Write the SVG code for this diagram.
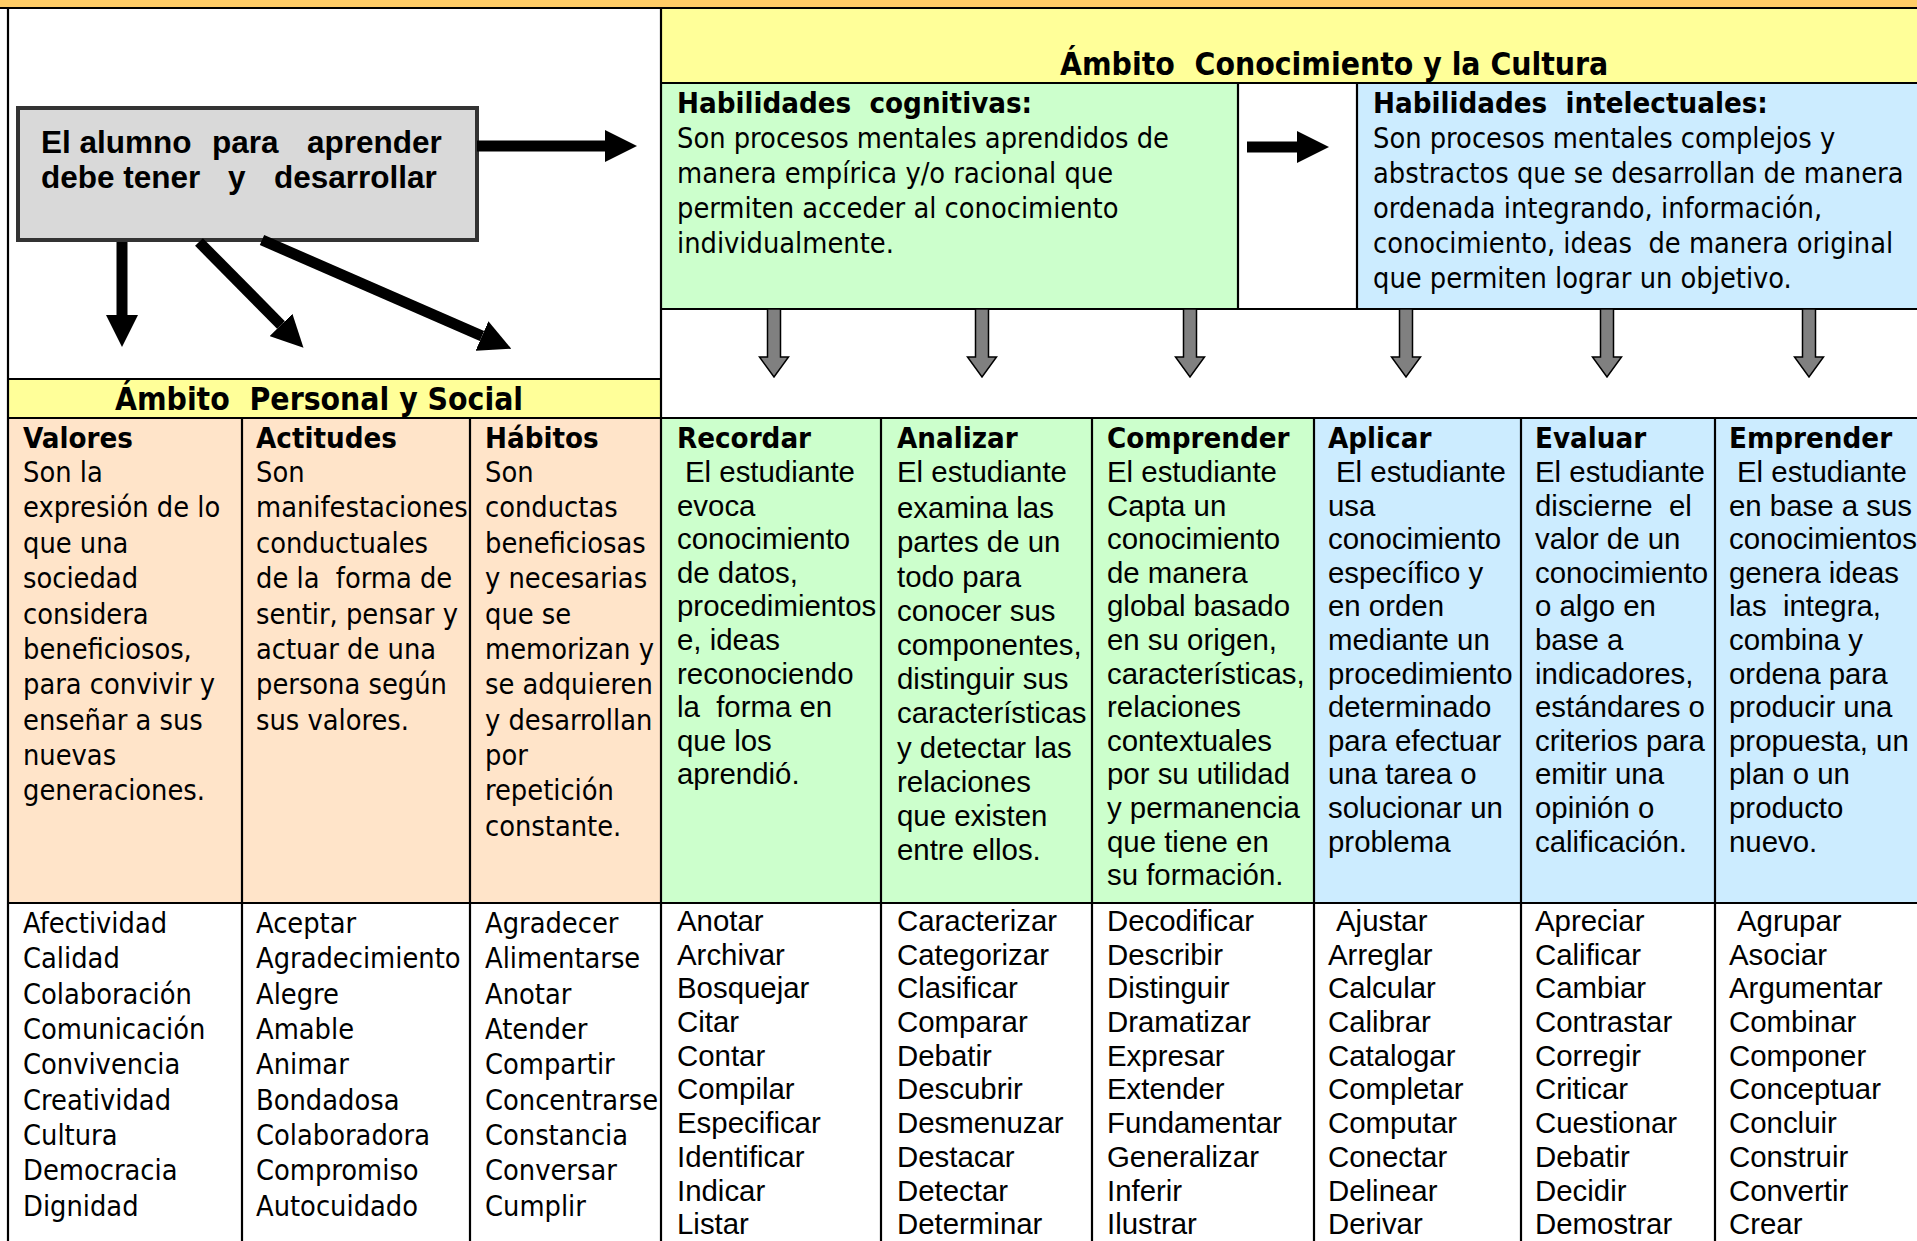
<svg xmlns="http://www.w3.org/2000/svg" width="1917" height="1241" viewBox="0 0 1917 1241">
<style>
.t{font-family:"DejaVu Sans Condensed","DejaVu Sans",sans-serif;font-stretch:condensed;font-size:28.7px;fill:#000}
.tb{font-family:"DejaVu Sans Condensed","DejaVu Sans",sans-serif;font-stretch:condensed;font-size:29.2px;font-weight:bold;fill:#000}
.th{font-family:"DejaVu Sans Condensed","DejaVu Sans",sans-serif;font-stretch:condensed;font-size:31.6px;font-weight:bold;fill:#000}
.a{font-family:"Liberation Sans",Arial,sans-serif;font-size:29.4px;fill:#000}
.ab{font-family:"Liberation Sans",Arial,sans-serif;font-size:31.5px;font-weight:bold;fill:#000}
.ln{stroke:#000;stroke-width:2.2;fill:none}
.blk{stroke:#000;stroke-width:11;fill:none;marker-end:url(#ah)}
.garrow{fill:#808080;stroke:#000;stroke-width:1.5}
</style>
<defs>
<marker id="ah" markerUnits="userSpaceOnUse" viewBox="0 0 32 32" markerWidth="32" markerHeight="32" refX="0" refY="16" orient="auto"><path d="M0,0 L32,16 L0,32 z" fill="#000"/></marker>
<path id="ga" class="garrow" d="M-6.5,309 L6.5,309 L6.5,357 L14.5,357 L0,377 L-14.5,357 L-6.5,357 Z"/>
</defs>
<rect x="0" y="0" width="1917" height="1241" fill="#fff"/>
<rect x="0" y="0" width="1917" height="8" fill="#ffcc66"/>

<g id="ambito-conocimiento">
<rect x="661" y="8" width="1256" height="75" fill="#ffff99"/>
<text class="th" x="1060" y="75" xml:space="preserve">Ámbito  Conocimiento y la Cultura</text>
</g>

<g id="hab-cognitivas">
<rect x="661" y="83" width="577" height="226" fill="#ccffcc"/>
<text class="tb" x="677" y="113" xml:space="preserve">Habilidades  cognitivas:</text>
<text class="t" x="677" y="148">Son procesos mentales aprendidos de</text>
<text class="t" x="677" y="183">manera empírica y/o racional que</text>
<text class="t" x="677" y="218">permiten acceder al conocimiento</text>
<text class="t" x="677" y="253">individualmente.</text>
</g>

<g id="hab-intelectuales">
<rect x="1357" y="83" width="560" height="226" fill="#ccecff"/>
<text class="tb" x="1373" y="113" xml:space="preserve">Habilidades  intelectuales:</text>
<text class="t" x="1373" y="148">Son procesos mentales complejos y</text>
<text class="t" x="1373" y="183">abstractos que se desarrollan de manera</text>
<text class="t" x="1373" y="218">ordenada integrando, información,</text>
<text class="t" x="1373" y="253" xml:space="preserve">conocimiento, ideas  de manera original</text>
<text class="t" x="1373" y="288">que permiten lograr un objetivo.</text>
</g>

<g id="alumno">
<rect x="18" y="108" width="459" height="132" fill="#d9d9d9" stroke="#333" stroke-width="4"/>
<text class="ab" y="153"><tspan x="41">El alumno</tspan><tspan x="212">para</tspan><tspan x="307">aprender</tspan></text>
<text class="ab" y="188"><tspan x="41">debe tener</tspan><tspan x="228">y</tspan><tspan x="274">desarrollar</tspan></text>
</g>

<g id="ambito-personal">
<rect x="8" y="379" width="653" height="39" fill="#ffff99"/>
<text class="th" x="319" y="410" text-anchor="middle" xml:space="preserve">Ámbito  Personal y Social</text>
</g>

<g id="fills">
<rect x="8" y="418" width="653" height="485" fill="#ffe4c9"/>
<rect x="661" y="418" width="653" height="485" fill="#ccffcc"/>
<rect x="1314" y="418" width="603" height="485" fill="#ccecff"/>
</g>

<g id="valores">
<text class="tb" x="23" y="448">Valores</text>
<text class="t" x="23" y="482">Son la</text>
<text class="t" x="23" y="517">expresión de lo</text>
<text class="t" x="23" y="553">que una</text>
<text class="t" x="23" y="588">sociedad</text>
<text class="t" x="23" y="624">considera</text>
<text class="t" x="23" y="659">beneficiosos,</text>
<text class="t" x="23" y="694">para convivir y</text>
<text class="t" x="23" y="730">enseñar a sus</text>
<text class="t" x="23" y="765">nuevas</text>
<text class="t" x="23" y="800">generaciones.</text>
<text class="t" x="23" y="933">Afectividad</text>
<text class="t" x="23" y="968">Calidad</text>
<text class="t" x="23" y="1004">Colaboración</text>
<text class="t" x="23" y="1039">Comunicación</text>
<text class="t" x="23" y="1074">Convivencia</text>
<text class="t" x="23" y="1110">Creatividad</text>
<text class="t" x="23" y="1145">Cultura</text>
<text class="t" x="23" y="1180">Democracia</text>
<text class="t" x="23" y="1216">Dignidad</text>
</g>

<g id="actitudes">
<text class="tb" x="256" y="448">Actitudes</text>
<text class="t" x="256" y="482">Son</text>
<text class="t" x="256" y="517">manifestaciones</text>
<text class="t" x="256" y="553">conductuales</text>
<text class="t" x="256" y="588" xml:space="preserve">de la  forma de</text>
<text class="t" x="256" y="624">sentir, pensar y</text>
<text class="t" x="256" y="659">actuar de una</text>
<text class="t" x="256" y="694">persona según</text>
<text class="t" x="256" y="730">sus valores.</text>
<text class="t" x="256" y="933">Aceptar</text>
<text class="t" x="256" y="968">Agradecimiento</text>
<text class="t" x="256" y="1004">Alegre</text>
<text class="t" x="256" y="1039">Amable</text>
<text class="t" x="256" y="1074">Animar</text>
<text class="t" x="256" y="1110">Bondadosa</text>
<text class="t" x="256" y="1145">Colaboradora</text>
<text class="t" x="256" y="1180">Compromiso</text>
<text class="t" x="256" y="1216">Autocuidado</text>
</g>

<g id="habitos">
<text class="tb" x="485" y="448">Hábitos</text>
<text class="t" x="485" y="482">Son</text>
<text class="t" x="485" y="517">conductas</text>
<text class="t" x="485" y="553">beneficiosas</text>
<text class="t" x="485" y="588">y necesarias</text>
<text class="t" x="485" y="624">que se</text>
<text class="t" x="485" y="659">memorizan y</text>
<text class="t" x="485" y="694">se adquieren</text>
<text class="t" x="485" y="730">y desarrollan</text>
<text class="t" x="485" y="765">por</text>
<text class="t" x="485" y="800">repetición</text>
<text class="t" x="485" y="836">constante.</text>
<text class="t" x="485" y="933">Agradecer</text>
<text class="t" x="485" y="968">Alimentarse</text>
<text class="t" x="485" y="1004">Anotar</text>
<text class="t" x="485" y="1039">Atender</text>
<text class="t" x="485" y="1074">Compartir</text>
<text class="t" x="485" y="1110">Concentrarse</text>
<text class="t" x="485" y="1145">Constancia</text>
<text class="t" x="485" y="1180">Conversar</text>
<text class="t" x="485" y="1216">Cumplir</text>
</g>

<g id="recordar">
<text class="tb" x="677" y="448">Recordar</text>
<text class="a" x="685" y="482">El estudiante</text>
<text class="a" x="677" y="516">evoca</text>
<text class="a" x="677" y="549">conocimiento</text>
<text class="a" x="677" y="583">de datos,</text>
<text class="a" x="677" y="616">procedimientos</text>
<text class="a" x="677" y="650">e, ideas</text>
<text class="a" x="677" y="684">reconociendo</text>
<text class="a" x="677" y="717" xml:space="preserve">la  forma en</text>
<text class="a" x="677" y="751">que los</text>
<text class="a" x="677" y="784">aprendió.</text>
<text class="a" x="677" y="931">Anotar</text>
<text class="a" x="677" y="965">Archivar</text>
<text class="a" x="677" y="998">Bosquejar</text>
<text class="a" x="677" y="1032">Citar</text>
<text class="a" x="677" y="1066">Contar</text>
<text class="a" x="677" y="1099">Compilar</text>
<text class="a" x="677" y="1133">Especificar</text>
<text class="a" x="677" y="1167">Identificar</text>
<text class="a" x="677" y="1201">Indicar</text>
<text class="a" x="677" y="1234">Listar</text>
</g>

<g id="analizar">
<text class="tb" x="897" y="448">Analizar</text>
<text class="a" x="897" y="482">El estudiante</text>
<text class="a" x="897" y="518">examina las</text>
<text class="a" x="897" y="552">partes de un</text>
<text class="a" x="897" y="587">todo para</text>
<text class="a" x="897" y="621">conocer sus</text>
<text class="a" x="897" y="655">componentes,</text>
<text class="a" x="897" y="689">distinguir sus</text>
<text class="a" x="897" y="723">características</text>
<text class="a" x="897" y="758">y detectar las</text>
<text class="a" x="897" y="792">relaciones</text>
<text class="a" x="897" y="826">que existen</text>
<text class="a" x="897" y="860">entre ellos.</text>
<text class="a" x="897" y="931">Caracterizar</text>
<text class="a" x="897" y="965">Categorizar</text>
<text class="a" x="897" y="998">Clasificar</text>
<text class="a" x="897" y="1032">Comparar</text>
<text class="a" x="897" y="1066">Debatir</text>
<text class="a" x="897" y="1099">Descubrir</text>
<text class="a" x="897" y="1133">Desmenuzar</text>
<text class="a" x="897" y="1167">Destacar</text>
<text class="a" x="897" y="1201">Detectar</text>
<text class="a" x="897" y="1234">Determinar</text>
</g>

<g id="comprender">
<text class="tb" x="1107" y="448">Comprender</text>
<text class="a" x="1107" y="482">El estudiante</text>
<text class="a" x="1107" y="516">Capta un</text>
<text class="a" x="1107" y="549">conocimiento</text>
<text class="a" x="1107" y="583">de manera</text>
<text class="a" x="1107" y="616">global basado</text>
<text class="a" x="1107" y="650">en su origen,</text>
<text class="a" x="1107" y="684">características,</text>
<text class="a" x="1107" y="717">relaciones</text>
<text class="a" x="1107" y="751">contextuales</text>
<text class="a" x="1107" y="784">por su utilidad</text>
<text class="a" x="1107" y="818">y permanencia</text>
<text class="a" x="1107" y="852">que tiene en</text>
<text class="a" x="1107" y="885">su formación.</text>
<text class="a" x="1107" y="931">Decodificar</text>
<text class="a" x="1107" y="965">Describir</text>
<text class="a" x="1107" y="998">Distinguir</text>
<text class="a" x="1107" y="1032">Dramatizar</text>
<text class="a" x="1107" y="1066">Expresar</text>
<text class="a" x="1107" y="1099">Extender</text>
<text class="a" x="1107" y="1133">Fundamentar</text>
<text class="a" x="1107" y="1167">Generalizar</text>
<text class="a" x="1107" y="1201">Inferir</text>
<text class="a" x="1107" y="1234">Ilustrar</text>
</g>

<g id="aplicar">
<text class="tb" x="1328" y="448">Aplicar</text>
<text class="a" x="1336" y="482">El estudiante</text>
<text class="a" x="1328" y="516">usa</text>
<text class="a" x="1328" y="549">conocimiento</text>
<text class="a" x="1328" y="583">específico y</text>
<text class="a" x="1328" y="616">en orden</text>
<text class="a" x="1328" y="650">mediante un</text>
<text class="a" x="1328" y="684">procedimiento</text>
<text class="a" x="1328" y="717">determinado</text>
<text class="a" x="1328" y="751">para efectuar</text>
<text class="a" x="1328" y="784">una tarea o</text>
<text class="a" x="1328" y="818">solucionar un</text>
<text class="a" x="1328" y="852">problema</text>
<text class="a" x="1336" y="931">Ajustar</text>
<text class="a" x="1328" y="965">Arreglar</text>
<text class="a" x="1328" y="998">Calcular</text>
<text class="a" x="1328" y="1032">Calibrar</text>
<text class="a" x="1328" y="1066">Catalogar</text>
<text class="a" x="1328" y="1099">Completar</text>
<text class="a" x="1328" y="1133">Computar</text>
<text class="a" x="1328" y="1167">Conectar</text>
<text class="a" x="1328" y="1201">Delinear</text>
<text class="a" x="1328" y="1234">Derivar</text>
</g>

<g id="evaluar">
<text class="tb" x="1535" y="448">Evaluar</text>
<text class="a" x="1535" y="482">El estudiante</text>
<text class="a" x="1535" y="516" xml:space="preserve">discierne  el</text>
<text class="a" x="1535" y="549">valor de un</text>
<text class="a" x="1535" y="583">conocimiento</text>
<text class="a" x="1535" y="616">o algo en</text>
<text class="a" x="1535" y="650">base a</text>
<text class="a" x="1535" y="684">indicadores,</text>
<text class="a" x="1535" y="717">estándares o</text>
<text class="a" x="1535" y="751">criterios para</text>
<text class="a" x="1535" y="784">emitir una</text>
<text class="a" x="1535" y="818">opinión o</text>
<text class="a" x="1535" y="852">calificación.</text>
<text class="a" x="1535" y="931">Apreciar</text>
<text class="a" x="1535" y="965">Calificar</text>
<text class="a" x="1535" y="998">Cambiar</text>
<text class="a" x="1535" y="1032">Contrastar</text>
<text class="a" x="1535" y="1066">Corregir</text>
<text class="a" x="1535" y="1099">Criticar</text>
<text class="a" x="1535" y="1133">Cuestionar</text>
<text class="a" x="1535" y="1167">Debatir</text>
<text class="a" x="1535" y="1201">Decidir</text>
<text class="a" x="1535" y="1234">Demostrar</text>
</g>

<g id="emprender">
<text class="tb" x="1729" y="448">Emprender</text>
<text class="a" x="1737" y="482">El estudiante</text>
<text class="a" x="1729" y="516">en base a sus</text>
<text class="a" x="1729" y="549">conocimientos</text>
<text class="a" x="1729" y="583">genera ideas</text>
<text class="a" x="1729" y="616" xml:space="preserve">las  integra,</text>
<text class="a" x="1729" y="650">combina y</text>
<text class="a" x="1729" y="684">ordena para</text>
<text class="a" x="1729" y="717">producir una</text>
<text class="a" x="1729" y="751">propuesta, un</text>
<text class="a" x="1729" y="784">plan o un</text>
<text class="a" x="1729" y="818">producto</text>
<text class="a" x="1729" y="852">nuevo.</text>
<text class="a" x="1737" y="931">Agrupar</text>
<text class="a" x="1729" y="965">Asociar</text>
<text class="a" x="1729" y="998">Argumentar</text>
<text class="a" x="1729" y="1032">Combinar</text>
<text class="a" x="1729" y="1066">Componer</text>
<text class="a" x="1729" y="1099">Conceptuar</text>
<text class="a" x="1729" y="1133">Concluir</text>
<text class="a" x="1729" y="1167">Construir</text>
<text class="a" x="1729" y="1201">Convertir</text>
<text class="a" x="1729" y="1234">Crear</text>
</g>

<g id="grid">
<path class="ln" d="M0,8 H1917 M8,8 V1241 M661,8 V1241 M661,83 H1917 M1238,83 V309 M1357,83 V309 M661,309 H1917 M8,379 H661 M8,418 H1917 M8,903 H1917 M242,418 V1241 M470,418 V1241 M881,418 V1241 M1092,418 V1241 M1314,418 V1241 M1521,418 V1241 M1715,418 V1241"/>
</g>

<g id="connectors">
<line class="blk" x1="477" y1="146" x2="605" y2="146"/>
<line class="blk" x1="122" y1="242" x2="122" y2="315"/>
<line class="blk" x1="199" y1="242" x2="281" y2="325"/>
<line class="blk" x1="262" y1="240" x2="482" y2="336"/>
<line class="blk" x1="1247" y1="147" x2="1297" y2="147"/>
<use href="#ga" x="774"/>
<use href="#ga" x="982"/>
<use href="#ga" x="1190"/>
<use href="#ga" x="1406"/>
<use href="#ga" x="1607"/>
<use href="#ga" x="1809"/>
</g>
</svg>
